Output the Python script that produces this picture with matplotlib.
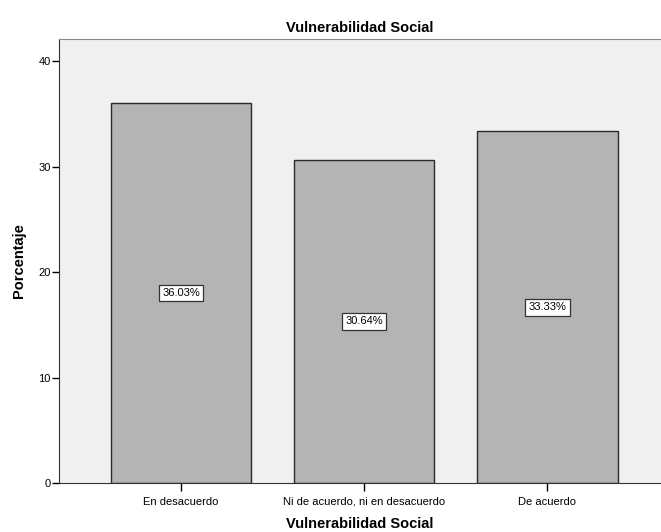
import numpy as np
import matplotlib.pyplot as plt

plt.rcParams['font.family'] = ['Liberation Sans', 'DejaVu Sans']

# data
categorias = ['En desacuerdo', 'Ni de acuerdo, ni en desacuerdo', 'De acuerdo']
porcentajes = [36.03, 30.64, 33.33]
yticks = [0, 10, 20, 30, 40]

fig = plt.figure(figsize=(6.61, 5.32), dpi=100)
ax = fig.add_axes([59/661, 49/532, 1 - 59/661, (483-39)/532])
ax.set_facecolor('#f0f0f0')

x = np.arange(len(categorias))
ax.bar(x, porcentajes, width=0.765, color='#b4b4b4', edgecolor='#2a2a2a', linewidth=1.0)

for xi, v in zip(x, porcentajes):
    ax.text(xi, v/2, '%.2f%%' % v, ha='center', va='center', fontsize=8,
            bbox=dict(boxstyle='square,pad=0.3', facecolor='white', edgecolor='#333333', linewidth=0.9))

ax.set_xlim(-0.667, 2.62)
ax.set_ylim(0, 42.1)
ax.set_xticks(x)
ax.set_xticklabels(categorias, fontsize=8)
ax.set_yticks(yticks)
ax.tick_params(axis='y', labelsize=8, length=5, width=1, direction='out', pad=1)
ax.tick_params(axis='x', length=6, width=1, direction='out', pad=4)

ax.spines['right'].set_visible(False)
ax.spines['top'].set_color('#888888')
ax.spines['left'].set_color('#333333')
ax.spines['bottom'].set_color('#333333')

ax.set_title('Vulnerabilidad Social', fontsize=10.5, fontweight='bold', pad=5)
ax.set_xlabel('Vulnerabilidad Social', fontsize=10.5, fontweight='bold', labelpad=7)
ax.set_ylabel('Porcentaje', fontsize=10.5, fontweight='bold', labelpad=9)

fig.savefig('out.png', dpi=100)
